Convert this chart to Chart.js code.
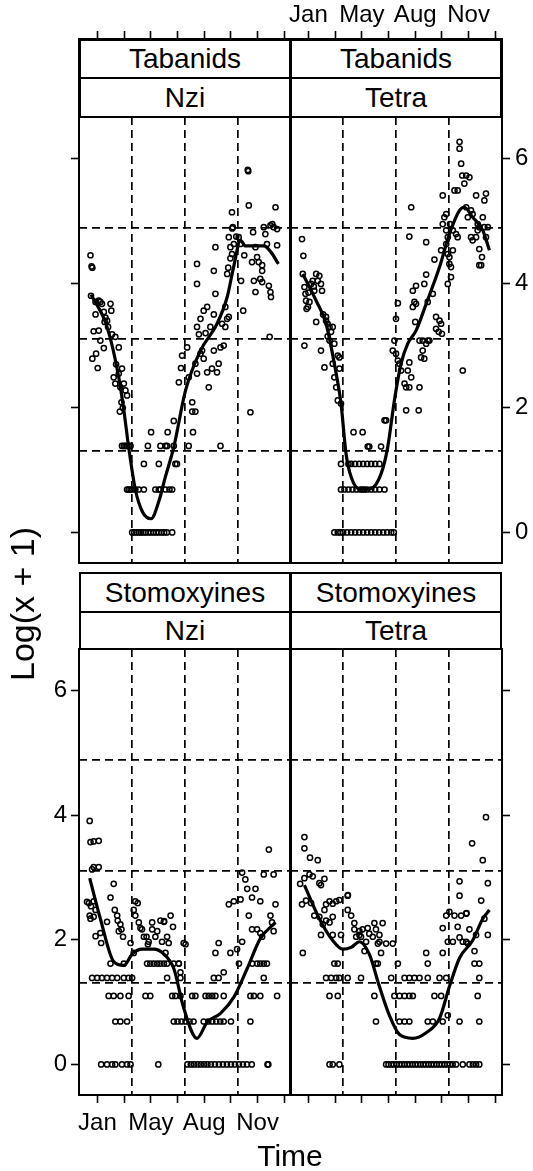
<!DOCTYPE html>
<html><head><meta charset="utf-8">
<title>Tabanids and Stomoxyines by trap</title>
<script src="https://cdn.jsdelivr.net/npm/chart.js@4.4.1/dist/chart.umd.min.js"></script>
<style>
html,body{margin:0;padding:0;background:#fff;}
body{position:relative;width:533px;height:1171px;overflow:hidden;font-family:"Liberation Sans",Arial,Helvetica,sans-serif;color:#000;}
canvas{position:absolute;}
.strip{position:absolute;box-sizing:border-box;border:2px solid #000;background:#fff;z-index:5;display:flex;align-items:center;justify-content:center;font-size:28px;line-height:1;white-space:nowrap;}
.lab{position:absolute;white-space:nowrap;line-height:1;z-index:6;}
</style></head><body>
<div class="lab" style="left:22px;top:604px;font-size:34px;transform:translate(-50%,-50%) rotate(-90deg);">Log(x + 1)</div>
<div class="lab" style="left:290px;top:1141px;font-size:30px;transform:translateX(-50%);">Time</div>
<script>
// ---------- tick / label data ----------
const xTicks = [0,1,2,3,4,5,6,7];
const xTickLabels = ['Jan','','May','','Aug','','Nov',''];
const yTicks = [0,2,4,6];
const xGridLines = [1.29,3.27,5.25];
const yGridLines = [1.31,3.10,4.89];
const stripGroup = ['Tabanids','Tabanids','Stomoxyines','Stomoxyines'];
const stripTrap = ['Nzi','Tetra','Nzi','Tetra'];

// ---------- Tabanids, Nzi ----------
const tabNziPts = [[-0.26,4.45],[-0.22,4.27],[-0.19,4.25],[-0.24,3.80],[-0.07,3.70],[0.05,3.72],[0.11,3.70],[0.17,3.67],[0.49,3.67],[0.52,3.56],[-0.07,3.50],[0.24,3.54],[0.36,3.40],[0.27,3.38],[-0.14,3.23],[0.05,3.24],[0.55,3.18],[0.67,3.14],[0.80,2.97],[0.11,3.08],[0.24,2.96],[-0.05,2.87],[-0.19,2.79],[0.01,2.64],[0.61,2.49],[0.80,2.55],[0.92,2.63],[0.99,2.39],[0.67,2.39],[0.86,2.33],[1.05,2.28],[1.11,2.20],[0.90,2.09],[0.84,1.94],[0.40,3.30],[0.30,3.45],[0.70,2.70],[0.95,2.00],
[0.92,1.39],[0.99,1.39],[1.05,1.39],[1.11,1.39],[1.17,1.39],[1.24,1.39],[1.89,1.39],[2.36,1.39],[2.55,1.39],[2.61,1.39],[2.86,1.39],[3.42,1.39],[4.61,1.39],
[1.74,1.10],[2.30,1.10],[2.92,1.10],
[2.01,1.61],[2.63,1.61],[3.58,1.61],
[1.11,0.69],[1.17,0.69],[1.24,0.69],[1.30,0.69],[1.42,0.69],[1.55,0.69],[1.74,0.69],[2.17,0.69],[2.30,0.69],[2.36,0.69],[2.55,0.69],[2.70,0.69],[2.80,0.69],
[1.30,0],[1.38,0],[1.46,0],[1.55,0],[1.63,0],[1.71,0],[1.80,0],[1.90,0],[2.00,0],[2.10,0],[2.20,0],[2.30,0],[2.40,0],[2.50,0],[2.60,0],[2.80,0],
[2.86,1.79],[2.98,1.10],[3.05,2.41],[3.13,2.64],[3.36,2.97],[3.17,2.84],[3.42,2.49],[3.55,2.09],[3.55,1.94],[3.67,1.94],[3.73,2.55],[3.67,2.71],[3.86,2.87],[3.98,2.79],[3.92,2.92],[4.11,2.57],[4.17,2.33],[4.29,2.63],[4.36,2.92],[4.48,2.57],[4.54,2.71],[4.61,2.97],[4.73,3.00],[4.79,3.30],[4.67,3.35],[4.86,3.43],[4.92,3.46],[3.73,3.30],[3.80,3.18],[3.86,3.43],[3.98,3.56],[4.11,3.62],[4.36,3.50],[4.79,3.62],[4.23,3.30],[4.05,3.20],
[3.73,4.31],[3.73,3.99],[4.36,4.20],[4.42,4.58],[4.42,3.83],[5.04,5.14],[5.07,4.90],[5.05,4.88],[4.98,4.58],[5.11,4.63],[5.04,4.47],[4.92,4.74],[5.29,4.74],[5.36,4.63],[5.46,3.56],[5.38,4.04],[5.67,5.25],[5.63,5.82],[5.65,5.80],[5.73,1.93],[5.83,4.82],[5.92,4.58],[5.79,4.34],[5.98,4.42],[6.04,4.34],[6.17,4.29],[6.23,4.90],[6.29,4.79],[6.35,4.63],[6.48,4.93],[6.67,5.22],[6.73,4.87],[6.73,4.61],[6.60,4.90],[5.86,4.04],[5.92,3.86],[6.10,4.07],[6.17,4.02],[6.42,3.96],[6.48,3.86],[6.50,3.78],[6.45,3.14],[6.17,4.20],[4.98,4.40],[5.20,4.75],[5.50,4.45],[6.55,4.95],[4.86,4.15],[4.90,4.25]];
const tabNziFitX = [-0.24,0.36,0.80,0.99,1.17,1.42,1.70,2.01,2.30,2.55,2.86,3.30,3.86,4.48,4.86,5.10,5.36,5.54,6.00,6.23,6.50,6.78];
const tabNziFitY = [3.82,3.30,2.49,1.96,1.37,0.69,0.32,0.22,0.50,0.90,1.37,2.28,2.92,3.35,3.78,4.26,4.69,4.60,4.60,4.60,4.50,4.31];

// ---------- Tabanids, Tetra ----------
const tabTetraPts = [[-0.24,4.71],[-0.19,4.44],[-0.21,4.15],[-0.15,3.94],[-0.11,3.83],[-0.09,3.72],[-0.02,3.62],[0.10,3.99],[0.16,4.04],[0.29,4.15],[0.41,4.12],[0.35,4.04],[0.47,3.99],[0.51,3.88],[0.22,3.88],[0.04,3.70],[-0.07,3.59],[-0.15,3.00],[0.29,3.38],[0.66,3.46],[0.72,3.35],[0.79,3.30],[0.91,3.30],[0.85,3.22],[0.79,3.08],[0.97,3.03],[1.10,2.84],[0.47,2.92],[0.60,2.65],[0.91,2.71],[0.97,2.49],[1.04,2.33],[1.10,2.12],[1.22,2.07],[1.16,2.63],[1.16,2.81],[0.66,3.40],[0.72,3.15],[0.00,3.85],[0.20,3.95],[0.55,3.50],
[1.69,1.61],[2.03,1.61],[2.22,1.38],[2.28,1.38],[2.72,1.38],[2.85,1.80],
[1.22,1.10],[1.50,1.10],[1.60,1.10],[1.75,1.10],[1.90,1.10],[2.05,1.10],[2.20,1.10],[2.35,1.10],[2.50,1.10],[2.66,1.10],
[1.22,0.69],[1.35,0.69],[1.50,0.69],[1.65,0.69],[1.80,0.69],[1.95,0.69],[2.03,0.69],[2.10,0.69],[2.20,0.69],[2.35,0.69],[2.50,0.69],[2.66,0.69],[2.85,0.69],
[0.97,0],[1.10,0],[1.20,0],[1.30,0],[1.45,0],[1.60,0],[1.75,0],[1.90,0],[2.05,0],[2.20,0],[2.35,0],[2.50,0],[2.65,0],[2.80,0],[2.95,0],[3.10,0],[3.20,0],
[3.28,3.43],[3.35,3.68],[3.22,3.08],[3.16,2.92],[3.28,2.87],[3.35,2.76],[3.41,2.71],[3.47,2.60],[3.66,2.33],[3.72,2.60],[3.78,2.73],[3.85,2.49],[3.60,2.39],[3.78,2.33],[4.16,2.33],[3.66,1.96],[4.13,1.96],[2.91,1.80],
[3.91,3.88],[4.03,3.96],[4.34,3.99],[3.97,3.70],[3.91,3.62],[4.03,3.67],[4.00,3.38],[3.85,5.22],[3.78,4.75],[4.41,4.66],[4.41,4.14],[4.16,3.08],[4.28,3.08],[4.41,3.03],[4.47,3.08],[4.28,2.92],[4.22,2.81],[4.34,2.79],[4.53,3.08],[4.47,3.70],[4.66,3.83],[4.78,3.46],[4.91,3.40],[4.97,3.35],[4.78,3.27],[4.88,3.22],[5.00,3.19],[4.72,4.38],[4.97,4.53],[5.03,4.95],[5.09,5.06],[5.16,5.11],[5.03,5.41],[5.16,4.85],[5.22,4.74],[5.16,4.63],[5.22,4.47],[5.28,4.42],[5.28,4.31],[5.34,4.26],[5.34,4.10],[5.22,3.99],[5.41,4.85],[5.41,4.53],[5.47,5.49],[5.59,5.49],[5.66,6.27],[5.66,6.16],[5.72,5.92],[5.76,5.73],[5.84,5.60],[5.91,5.73],[6.03,5.70],[5.78,2.60],
[5.91,5.22],[5.97,5.06],[6.09,5.17],[6.15,5.11],[6.28,5.41],[6.34,4.95],[6.34,4.85],[6.28,4.74],[6.40,4.90],[6.53,5.06],[6.59,4.90],[6.65,5.44],[6.59,5.33],[6.65,4.74],[6.72,4.90],[6.09,4.74],[6.15,4.69],[6.40,4.55],[6.50,4.42],[6.40,4.29],[6.47,4.29],[5.53,4.79],[5.59,4.74],[5.30,4.95]];
const tabTetraFitX = [-0.21,0.29,0.66,0.97,1.22,1.41,1.60,1.91,2.30,2.72,2.97,3.22,3.47,3.72,4.03,4.41,4.91,5.28,5.66,5.84,6.15,6.53,6.78];
const tabTetraFitY = [4.15,3.72,3.35,2.71,2.07,1.26,0.89,0.70,0.70,0.94,1.37,2.12,2.71,3.03,3.24,3.67,4.26,4.79,5.17,5.22,5.06,4.85,4.53];

// ---------- Stomoxyines, Nzi ----------
const stoNziPts = [[-0.29,3.91],[-0.26,3.57],[-0.14,3.58],[0.05,3.59],[-0.20,3.13],[-0.14,3.17],[0.05,3.17],[-0.39,2.61],[-0.32,2.59],[-0.29,2.39],[-0.24,2.54],[-0.14,2.62],[-0.07,2.48],[-0.14,2.37],[-0.26,2.34],[0.61,2.90],[0.49,2.68],[0.36,2.29],[-0.07,2.06],[0.11,2.11],[0.14,1.95],[0.65,2.48],[0.74,2.39],[0.76,2.31],[0.86,2.25],[0.90,2.17],[0.96,2.05],[0.80,2.14],[1.24,1.95],[1.36,1.79],[1.42,2.62],[1.51,2.59],[1.36,2.48],[1.42,2.39],[1.55,2.28],[1.61,2.19],[1.67,2.17],[1.74,2.05],[1.84,2.05],[1.92,1.97],[1.89,1.93],[2.05,2.28],[2.17,2.05],[2.05,2.17],[2.36,2.31],[2.49,2.29],[2.74,2.39],[2.61,2.05],[2.67,1.95],[2.55,1.79],[2.24,2.14],[2.42,1.97],[2.83,2.21],[2.50,2.30],
[0.49,1.62],[0.99,1.62],[1.86,1.62],[1.98,1.62],[2.11,1.62],[2.24,1.62],[2.36,1.62],[2.49,1.62],[2.61,1.62],[2.86,1.62],[3.05,1.62],[5.30,1.62],[5.80,1.62],[5.98,1.62],[6.10,1.62],[6.23,1.62],[6.35,1.62],
[-0.20,1.39],[-0.01,1.39],[0.17,1.39],[0.36,1.39],[0.55,1.39],[0.74,1.39],[0.99,1.39],[1.17,1.39],[1.30,1.39],[2.61,1.39],[3.11,1.39],[4.36,1.39],[4.54,1.39],[6.23,1.39],
[0.42,1.10],[0.61,1.10],[0.86,1.10],[1.17,1.10],[1.80,1.10],[1.98,1.10],[2.80,1.10],[2.92,1.10],[3.11,1.10],[3.55,1.10],[3.67,1.10],[4.05,1.10],[4.17,1.10],[4.30,1.10],[4.42,1.10],[4.73,1.10],[5.73,1.10],[5.86,1.10],[6.10,1.10],[6.73,1.10],
[0.67,0.69],[0.86,0.69],[1.11,0.69],[2.86,0.69],[3.00,0.69],[3.15,0.69],[3.30,0.69],[3.45,0.69],[3.60,0.69],[3.98,0.69],[4.15,0.69],[4.30,0.69],[4.45,0.69],[4.60,0.69],[4.73,0.69],[5.00,0.69],[5.73,0.69],
[0.14,0],[0.36,0],[0.55,0],[0.67,0],[0.92,0],[1.11,0],[1.24,0],[2.28,0],[3.37,0],[3.50,0],[3.62,0],[3.75,0],[3.87,0],[4.00,0],[4.12,0],[4.25,0],[4.40,0],[4.55,0],[4.70,0],[4.85,0],[5.00,0],[5.15,0],[5.30,0],[5.45,0],[5.60,0],[5.78,0],[6.37,0],[6.40,0],
[4.42,1.79],[4.54,1.95],[4.98,1.79],[4.92,2.57],[5.11,2.62],[5.36,2.65],[5.42,3.08],[5.54,2.97],[5.61,2.82],[5.79,2.68],[5.92,2.82],[6.10,2.62],[6.23,3.05],[6.60,3.05],[6.67,2.57],[6.42,3.45],[5.42,1.97],[5.67,2.39],[5.79,2.17],[5.98,2.17],[6.10,2.11],[6.17,2.05],[6.48,2.39],[6.54,2.28],[6.60,2.14],[3.23,1.95],[3.30,1.93],[3.05,1.62],[3.11,1.48],[4.73,1.48],[5.23,1.85]];
const stoNziFitX = [-0.29,0.11,0.61,0.99,1.30,1.67,2.11,2.49,2.86,3.23,3.73,4.11,4.61,5.11,5.61,6.10,6.67];
const stoNziFitY = [2.99,2.34,1.65,1.59,1.77,1.85,1.85,1.77,1.54,0.91,0.42,0.68,0.82,1.08,1.54,2.02,2.28];

// ---------- Stomoxyines, Tetra ----------
const stoTetraPts = [[-0.15,3.65],[-0.15,3.47],[0.06,3.32],[0.35,3.28],[-0.31,2.90],[-0.15,2.99],[0.04,3.05],[0.16,3.02],[0.41,2.91],[0.47,2.88],[0.60,2.98],[-0.24,2.57],[-0.09,2.63],[0.10,2.59],[0.22,2.39],[0.41,2.37],[0.60,2.48],[0.66,2.57],[0.79,2.62],[0.91,2.58],[1.04,2.62],[1.16,2.64],[0.54,2.25],[0.66,2.31],[0.91,2.37],[0.79,2.28],[0.47,2.08],[0.91,2.08],[1.22,2.08],[-0.21,1.79],[1.47,2.71],[1.48,2.72],[1.47,2.48],[1.60,2.39],[1.72,2.27],[1.72,2.17],[1.79,2.05],[1.91,2.14],[1.97,2.05],[2.03,2.17],[2.22,2.19],[2.28,2.10],[2.16,1.97],[2.10,1.82],[1.91,2.08],[2.41,2.05],[2.47,2.27],[2.53,2.17],[2.66,2.08],[2.60,1.94],[2.78,2.27],[2.66,1.97],[2.91,1.94],[3.16,1.94],[2.72,1.79],[2.60,1.62],
[0.97,1.62],[1.10,1.62],[2.53,1.62],[3.35,1.62],[4.47,1.62],[6.22,1.62],[6.40,1.62],[4.41,1.79],[5.03,1.79],
[0.66,1.39],[0.85,1.39],[1.04,1.39],[1.16,1.39],[1.47,1.39],[1.97,1.39],[3.10,1.39],[3.60,1.39],[3.78,1.39],[3.97,1.39],[4.16,1.39],[4.47,1.39],[4.91,1.39],[5.16,1.39],[6.40,1.39],
[0.79,1.10],[1.10,1.10],[2.47,1.10],[3.22,1.10],[3.41,1.10],[3.60,1.10],[3.78,1.10],[3.91,1.10],[4.72,1.10],[4.97,1.10],[6.34,1.10],
[2.53,0.69],[3.41,0.69],[3.60,0.69],[3.78,0.69],[4.47,0.69],[4.66,0.69],[5.03,0.69],[5.66,0.69],[6.40,0.69],[5.22,0.79],
[0.79,0],[0.91,0],[1.16,0],[2.91,0],[3.00,0],[3.10,0],[3.20,0],[3.30,0],[3.40,0],[3.50,0],[3.60,0],[3.70,0],[3.80,0],[3.90,0],[4.00,0],[4.10,0],[4.20,0],[4.30,0],[4.40,0],[4.50,0],[4.60,0],[4.70,0],[4.80,0],[4.90,0],[5.00,0],[5.10,0],[5.20,0],[5.30,0],[5.40,0],[5.53,0],[5.78,0],[6.03,0],[6.16,0],[6.28,0],[6.40,0],
[5.03,2.19],[5.16,2.39],[5.28,2.45],[5.47,2.39],[5.72,2.39],[5.59,2.21],[5.66,2.04],[5.78,1.97],[5.97,1.94],[5.91,1.97],[5.41,1.97],[5.22,1.97],[5.66,2.94],[5.66,2.71],[5.91,2.42],[5.92,2.43],[6.13,3.55],[6.28,2.08],[6.53,3.28],[6.65,3.97],[6.72,2.91],[6.47,2.63],[6.59,2.34],[6.72,2.08],[6.22,1.82],[6.03,2.17]];
const stoTetraFitX = [-0.15,0.41,0.91,1.29,1.60,1.91,2.28,2.66,3.03,3.41,3.91,4.41,4.91,5.28,5.66,6.15,6.53,6.78];
const stoTetraFitY = [2.88,2.34,1.99,1.85,1.88,1.97,1.77,1.25,0.79,0.48,0.42,0.51,0.74,1.25,1.71,1.99,2.34,2.48];

// ---------- layout (pixels) ----------
const FONT = '"Liberation Sans", Arial, Helvetica, sans-serif';
const COL_LEFT = [79, 290];
const PANEL_W = 212;
const X_MIN = -0.69, X_MAX = 7.25;
const Y_MIN = -0.49, PX_PER_UNIT = 62.3;
const ROWS = [
  {stripTop:39, stripMid:77, plotTop:117, plotBot:563},
  {stripTop:572, stripMid:611, plotTop:649, plotBot:1095}
];

const panels = [
  {row:0, col:0, pts:tabNziPts,   fx:tabNziFitX,   fy:tabNziFitY},
  {row:0, col:1, pts:tabTetraPts, fx:tabTetraFitX, fy:tabTetraFitY},
  {row:1, col:0, pts:stoNziPts,   fx:stoNziFitX,   fy:stoNziFitY},
  {row:1, col:1, pts:stoTetraPts, fx:stoTetraFitX, fy:stoTetraFitY}
];

function addStrips(p, i) {
  const r = ROWS[p.row], l = COL_LEFT[p.col];
  const mk = (top, h, txt) => {
    const d = document.createElement('div');
    d.className = 'strip';
    d.style.left = l + 'px'; d.style.top = top + 'px';
    d.style.width = PANEL_W + 'px'; d.style.height = h + 'px';
    d.textContent = txt;
    document.body.appendChild(d);
  };
  mk(r.stripTop, r.stripMid - r.stripTop + 2, stripGroup[i]);
  mk(r.stripMid, r.plotTop - r.stripMid + 1, stripTrap[i]);
}

function makePanel(p) {
  const r = ROWS[p.row];
  const ML = 60, MR = 50;
  const MT = 40;
  const MB = 70;
  const areaT = p.row === 0 ? r.stripTop : r.plotTop;
  const areaB = r.plotBot;
  const areaH = areaB - areaT;
  const yMax = Y_MIN + areaH / PX_PER_UNIT;
  const W = PANEL_W + ML + MR, H = areaH + MT + MB;
  const c = document.createElement('canvas');
  c.width = W; c.height = H;
  c.style.left = (COL_LEFT[p.col] - ML) + 'px';
  c.style.top = (areaT - MT) + 'px';
  c.style.width = W + 'px'; c.style.height = H + 'px';
  document.body.appendChild(c);

  const outerL = p.col === 0, outerR = p.col === 1, outerT = p.row === 0, outerB = p.row === 1;
  const tickFont = {family: FONT, size: 24};
  const setX = s => { s.ticks = xTicks.map(v => ({value: v})); };
  const setY = s => { s.ticks = yTicks.map(v => ({value: v})); };
  const axisGrid = show => ({display: show, drawOnChartArea: false, drawTicks: true, tickLength: 8, tickColor: '#000', tickWidth: 1.6, tickBorderDash: []});
  const border = {display: true, color: '#000', width: 2, dash: []};

  new Chart(c, {
    type: 'scatter',
    data: {datasets: [
      {data: p.pts.map(q => ({x: q[0], y: q[1]})), showLine: false,
       pointRadius: 2.6, pointHoverRadius: 2.6, pointBorderWidth: 1.5,
       pointBorderColor: '#000', pointBackgroundColor: 'rgba(255,255,255,0)'},
      {data: p.fx.map((x, k) => ({x: x, y: p.fy[k]})), showLine: true,
       borderColor: '#000', borderWidth: 3.2, pointRadius: 0, pointHoverRadius: 0,
       cubicInterpolationMode: 'monotone', fill: false}
    ]},
    options: {
      responsive: false, animation: false, events: [],
      layout: {padding: 0, autoPadding: false},
      plugins: {legend: {display: false}, tooltip: {enabled: false}},
      scales: {
        x: {type: 'linear', position: 'bottom', min: X_MIN, max: X_MAX,
            afterBuildTicks: setX, afterFit: s => { s.height = MB; },
            ticks: {display: outerB && outerL, autoSkip: false, maxRotation: 0, color: '#000', font: tickFont, padding: 6,
                    callback: (v, i) => xTickLabels[i]},
            grid: axisGrid(outerB), border: border},
        x2: {type: 'linear', position: 'top', min: X_MIN, max: X_MAX,
             afterBuildTicks: setX, afterFit: s => { s.height = MT; },
             ticks: {display: outerT && outerR, autoSkip: false, maxRotation: 0, color: '#000', font: tickFont, padding: 1,
                     callback: (v, i) => xTickLabels[i]},
             grid: axisGrid(outerT), border: border},
        y: {type: 'linear', position: 'left', min: Y_MIN, max: yMax,
            afterBuildTicks: setY, afterFit: s => { s.width = ML; },
            ticks: {display: outerL && outerB, autoSkip: false, color: '#000', font: tickFont, padding: 4,
                    callback: v => String(v)},
            grid: axisGrid(outerL), border: border},
        y2: {type: 'linear', position: 'right', min: Y_MIN, max: yMax,
             afterBuildTicks: setY, afterFit: s => { s.width = MR; },
             ticks: {display: outerR && outerT, autoSkip: false, color: '#000', font: tickFont, padding: 5,
                     callback: v => String(v)},
             grid: axisGrid(outerR), border: border},
        gx: {type: 'linear', position: 'bottom', min: X_MIN, max: X_MAX,
             afterBuildTicks: s => { s.ticks = xGridLines.map(v => ({value: v})); },
             afterFit: s => { s.height = 0; },
             ticks: {display: false},
             grid: {display: true, drawOnChartArea: true, drawTicks: false, color: '#000', lineWidth: 1.7},
             border: {display: false, dash: [8, 5]}},
        gy: {type: 'linear', position: 'left', min: Y_MIN, max: yMax,
             afterBuildTicks: s => { s.ticks = yGridLines.map(v => ({value: v})); },
             afterFit: s => { s.width = 0; },
             ticks: {display: false},
             grid: {display: true, drawOnChartArea: true, drawTicks: false, color: '#000', lineWidth: 1.7},
             border: {display: false, dash: [8, 5]}}
      }
    }
  });
}

panels.forEach((p, i) => { makePanel(p); addStrips(p, i); });
</script>
</body></html>
